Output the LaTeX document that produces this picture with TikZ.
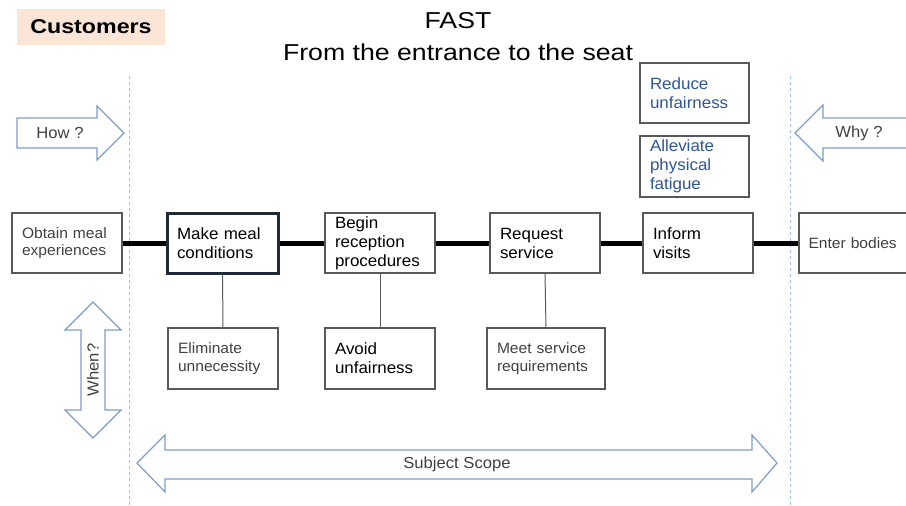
\documentclass[tikz,border=0pt]{standalone}
\usepackage{fontspec}
\setmainfont{Liberation Sans}[FakeStretch=1.04]
\newfontfamily\widefont{Liberation Sans}[FakeStretch=1.16]
\definecolor{arrowc}{HTML}{7F9DC4}
\definecolor{dashc}{HTML}{9DC3E6}
\definecolor{boxc}{HTML}{595959}
\definecolor{txtg}{HTML}{404040}
\definecolor{bluet}{HTML}{2F5597}
\definecolor{navy}{HTML}{1F2A38}
\definecolor{peach}{HTML}{FBE5D6}
\begin{document}
\begin{tikzpicture}[x=1pt,y=-1pt,
  box/.style={draw=boxc,line width=1.2pt,fill=white,minimum height=60pt,inner xsep=10pt,inner ysep=0pt,align=left,anchor=center},
  big/.style={font=\fontsize{16.3}{19}\selectfont,text=black},
  small/.style={font=\fontsize{15}{17.5}\selectfont,text=txtg},
  blue/.style={font=\fontsize{16.3}{19}\selectfont,text=bluet},
  bigarrow/.style={draw=arrowc,line width=1.2pt,fill=white,line join=miter},
  arrowtxt/.style={font=\fontsize{16}{18}\selectfont,text=txtg},
  titletxt/.style={font=\widefont\fontsize{23}{28}\selectfont,anchor=base},
  spine/.style={line width=5pt,black},
  stem/.style={draw=boxc,line width=1pt},
  scopeline/.style={dashc,line width=1pt,dash pattern=on 3pt off 3pt}]
\useasboundingbox (0,0) rectangle (906,506);

% title and label
\node[fill=peach,minimum width=148pt,minimum height=36pt,font=\widefont\fontsize{20}{24}\selectfont\bfseries] (cust) at (91,27) {Customers};
\node[titletxt] (title1) at (458,28.3) {FAST};
\node[titletxt] (title2) at (458,60) {From the entrance to the seat};

% dashed scope lines
\coordinate (dl1) at (129.5,76);
\coordinate (dl1b) at (129.5,506);
\coordinate (dl2) at (790,76);
\coordinate (dl2b) at (790,506);
\draw[scopeline] (dl1) -- (dl1b);
\draw[scopeline] (dl2) -- (dl2b);

% big arrows
\draw[bigarrow] (17,118) -- (97,118) -- (97,106) -- (124,133) -- (97,160) -- (97,148) -- (17,148) -- cycle;
\node[arrowtxt] (how) at (60,133) {How ?};
\draw[bigarrow] (907,118) -- (823,118) -- (823,105) -- (795,133) -- (823,161) -- (823,148) -- (907,148);
\node[arrowtxt] (why) at (859,133) {Why ?};
\draw[bigarrow] (93,302) -- (121,330) -- (105,330) -- (105,410) -- (121,410) -- (93,438) -- (65,410) -- (81,410) -- (81,330) -- (65,330) -- cycle;
\node[arrowtxt,rotate=90] (when) at (93,370) {When?};
\draw[bigarrow] (137,463) -- (165,435) -- (165,450) -- (752,450) -- (752,435) -- (777,463) -- (752,492) -- (752,479) -- (165,479) -- (165,492) -- cycle;
\node[arrowtxt] (scope) at (457,464) {Subject Scope};

% main boxes
\node[box,small,minimum width=110pt,text width=90pt] (obtain) at (67,243) {Obtain meal\\experiences};
\node[box,big,draw=navy,line width=3pt,minimum width=111pt,text width=91pt] (make) at (222.5,243) {Make meal\\conditions};
\node[box,big,minimum width=110pt,text width=90pt] (begin) at (380,243) {Begin\\reception\\procedures};
\node[box,big,minimum width=110pt,text width=90pt] (request) at (545,243) {Request\\service};
\node[box,big,minimum width=110pt,text width=90pt] (inform) at (698,243) {Inform\\visits};
\node[box,small,minimum width=120pt,text width=101pt,inner xsep=9pt] (enter) at (859,243) {Enter bodies};

% lower boxes
\node[box,small,minimum width=110pt,text width=90pt,minimum height=61pt] (elim) at (223,358.5) {Eliminate\\unnecessity};
\node[box,big,minimum width=110pt,text width=90pt,minimum height=61pt] (avoid) at (380,358.5) {Avoid\\unfairness};
\node[box,small,minimum width=118pt,text width=98pt,minimum height=61pt] (meet) at (546,358.5) {Meet service\\requirements};

% upper boxes
\node[box,blue,minimum width=109pt,text width=89pt] (reduce) at (694.5,93) {Reduce\\unfairness};
\node[box,blue,minimum width=109pt,text width=89pt,minimum height=61pt] (allev) at (694.5,166.5) {Alleviate\\physical\\fatigue};

% spine
\draw[spine] (obtain.east) -- (make.west);
\draw[spine] (make.east) -- (begin.west);
\draw[spine] (begin.east) -- (request.west);
\draw[spine] (request.east) -- (inform.west);
\draw[spine] (inform.east) -- (enter.west);

% stems
\draw[stem] (make.south) -- (elim.north);
\draw[stem] (begin.south) -- (avoid.north);
\draw[stem] (request.south) -- (meet.north);
\end{tikzpicture}
\end{document}
